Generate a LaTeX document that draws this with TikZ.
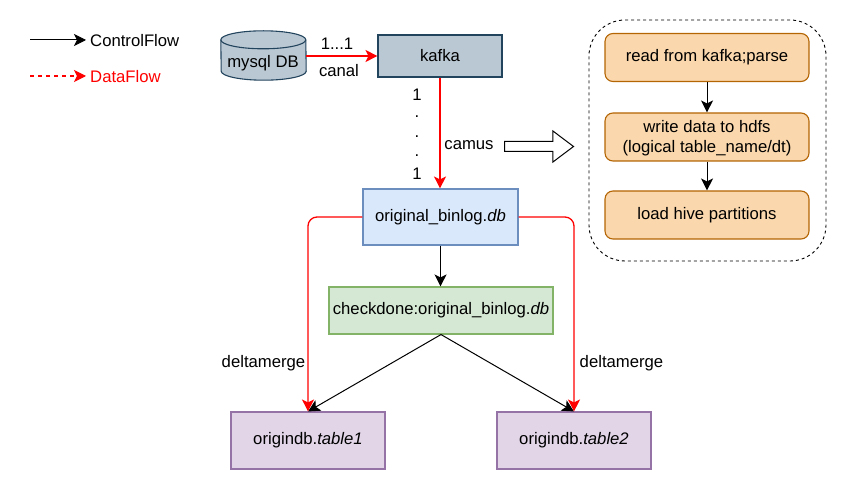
\documentclass[tikz,border=0pt]{standalone}
\usepackage{fontspec}
\setsansfont{Liberation Sans}
\usepackage{tikz}
\usetikzlibrary{arrows.meta,positioning,shapes.arrows}
\definecolor{slatefill}{HTML}{BAC8D3}
\definecolor{slateline}{HTML}{23445D}
\definecolor{bluefill}{HTML}{DAE8FC}
\definecolor{blueline}{HTML}{6C8EBF}
\definecolor{greenfill}{HTML}{D5E8D4}
\definecolor{greenline}{HTML}{82B366}
\definecolor{purplefill}{HTML}{E1D5E7}
\definecolor{purpleline}{HTML}{9673A6}
\definecolor{orangefill}{HTML}{FAD7AC}
\definecolor{orangeline}{HTML}{B46504}

\begin{document}
\begin{tikzpicture}
	[font=\sffamily\fontsize{16.7}{20}\selectfont, x=1pt, y=-1pt, inner sep=0pt,
	store/.style	= {rectangle,draw=slateline,fill=slatefill,line width=1.1pt,minimum width=124pt,minimum height=42pt},
	binlog/.style	= {rectangle,draw=blueline,fill=bluefill,line width=1.1pt,minimum width=155pt,minimum height=56pt},
	checkdone/.style	= {rectangle,draw=greenline,fill=greenfill,line width=1.1pt,minimum width=224pt,minimum height=47pt},
	tablebox/.style	= {rectangle,draw=purpleline,fill=purplefill,line width=1.1pt,minimum width=154pt,minimum height=57pt},
	task/.style	= {rectangle,rounded corners=8pt,draw=orangeline,fill=orangefill,line width=1.1pt,minimum width=204pt,minimum height=48pt,align=center},
	group/.style	= {rectangle,rounded corners=36pt,draw,dashed,line width=0.9pt,minimum width=237pt,minimum height=241pt},
	drum/.style	= {draw=slateline,fill=slatefill,line width=1.1pt},
	control/.style	= {-{Stealth[length=12pt,width=12pt,inset=3pt]}, line width=1pt},
	dataflow/.style	= {-{Stealth[length=12pt,width=12pt,inset=3pt]}, red, line width=1.3pt}]
	
	\useasboundingbox (0, 0) rectangle (848, 489);
	
	% legend
	\coordinate (ctrlstart) at (30, 40);
	\coordinate (ctrlend) at (86, 40);
	\coordinate (datastart) at (30, 76);
	\coordinate (dataend) at (86, 76);
	\node at (90, 40.5) [anchor=west] (ctrllabel) {ControlFlow};
	\node at (90, 76.5) [anchor=west, text=red] (datalabel) {DataFlow};
	\draw [control] (ctrlstart) -- (ctrlend);
	\draw [dataflow, line width=1.1pt, dash pattern=on 4pt off 4pt] (datastart) -- (dataend);
	
	\node at (263.5, 55.5) [minimum width=85pt, minimum height=49pt] (mysql) {};
	\draw [drum] ([yshift=-9pt]mysql.north west) arc[start angle=180, end angle=0, x radius=42.5pt, y radius=9pt] -- ([yshift=9pt]mysql.south east) arc[start angle=0, end angle=-180, x radius=42.5pt, y radius=9pt] -- cycle;
	\draw [drum, fill=none] ([yshift=-9pt]mysql.north west) arc[start angle=180, end angle=360, x radius=42.5pt, y radius=9pt];
	\node at (263, 63.5) (mysqllabel) {mysql DB};
	\node at (440, 56) [store] (kafka) {kafka};
	\node at (440.5, 217) [binlog] (binlog) {original\_binlog.\textit{db}};
	\node at (441, 310.5) [checkdone] (check) {checkdone:original\_binlog.\textit{db}};
	\node at (308, 440.5) [tablebox] (table1) {origindb.\textit{table1}};
	\node at (574, 440.5) [tablebox] (table2) {origindb.\textit{table2}};
	
	\node at (707.5, 140.5) [group] (group) {};
	\node at (707, 57.5) [task] (read) {read from kafka;parse};
	\node at (707, 137) [task, text height=35pt] (write) {write data to hdfs\\(logical table\_name/dt)};
	\node at (707, 215) [task] (load) {load hive partitions};
	
	\node at (504, 146.5) [anchor=tail, single arrow, draw, fill=white, line width=1pt, minimum height=69pt, minimum width=30pt, inner ysep=4.5pt, single arrow tip angle=74, single arrow head extend=10.5pt] (bigarrow) {};
	
	\draw [dataflow] (mysql.east |- kafka.west) -- (kafka.west);
	\draw [dataflow] (kafka.south) -- (binlog.north -| kafka.south);
	\draw [control] (binlog.south) -- (check.north -| binlog.south);
	\draw [control] (check.south) -- (table1.north);
	\draw [control] (check.south) -- (table2.north);
	\draw [dataflow, rounded corners=9pt] (binlog.west) -| (table1.north);
	\draw [dataflow, rounded corners=9pt] (binlog.east) -| (table2.north);
	\draw [control] (read) -- (write);
	\draw [control] (write) -- (load);
	
	\node at (337, 43.5) (canalcount) {1...1};
	\node at (339, 71) (canal) {canal};
	\node at (417, 95) (one1) {1};
	\node at (417, 117) (dot1) {.};
	\node at (417, 137) (dot2) {.};
	\node at (417, 156) (dot3) {.};
	\node at (417, 174) (one2) {1};
	\node at (469, 145.5) (camus) {camus};
	\node at (263.5, 363) (merge1) {deltamerge};
	\node at (621.5, 363) (merge2) {deltamerge};
	
\end{tikzpicture}
\end{document}
